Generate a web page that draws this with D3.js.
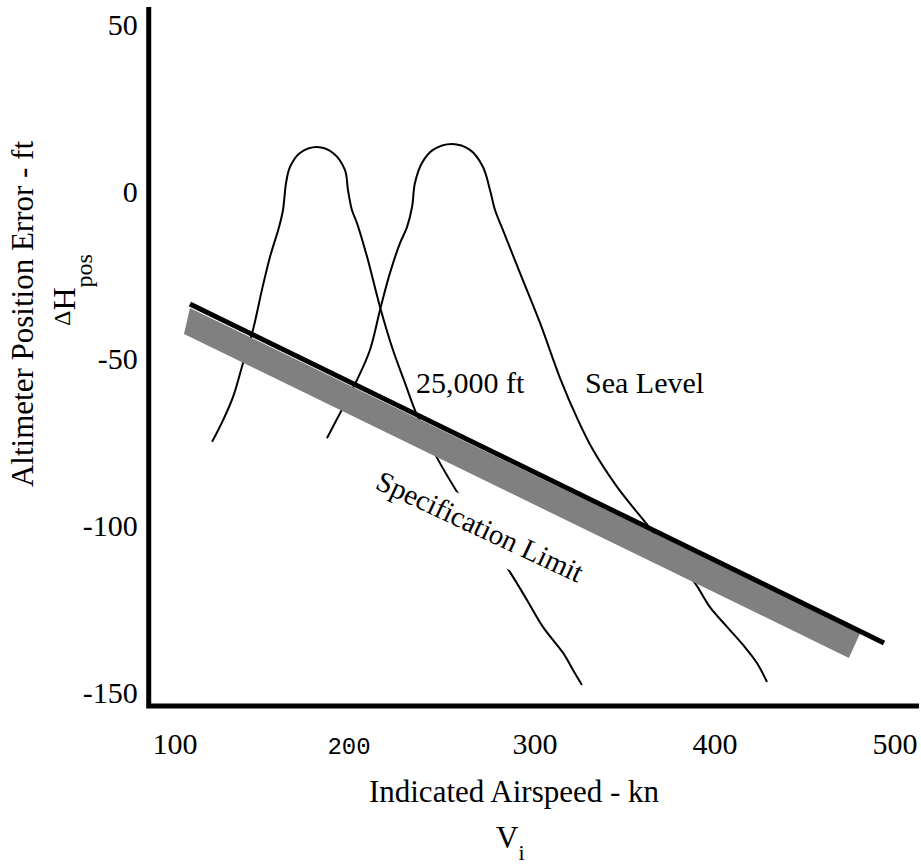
<!DOCTYPE html>
<html>
<head>
<meta charset="utf-8">
<script src="https://cdn.jsdelivr.net/npm/d3@7"></script>
<style>
  body { margin: 0; background: #fff; }
  text { font-family: "Liberation Serif", "Times New Roman", serif; fill: #000; }
</style>
</head>
<body>
<div id="chart"></div>
<script>
// tick labels
var xTicks = [100, 200, 300, 400, 500];
var yTicks = [50, 0, -50, -100, -150];

// 25,000 ft curve (kn, ft)
var alt25Kn  = [120.6, 126.7, 132.2, 137.8, 143.3, 148.3, 152.8, 157.8, 160.0, 161.7, 163.9, 169.4, 178.9, 187.8, 194.4, 196.1, 198.3, 201.1, 206.7, 213.9, 221.1, 227.8, 233.3, 239.4, 245.6, 256.7, 271.1, 286.1, 295.6, 304.4, 315.6, 321.1, 326.1];
var alt25Err = [-75.1, -68.6, -61.7, -51.5, -41.6, -29.6, -19.7, -10.8, -5.7, 2.4, 7.2, 11.4, 13.2, 11.4, 6.3, 0.3, -5.7, -9.6, -19.7, -34.7, -47.6, -57.5, -65.6, -72.8, -79.9, -90.1, -102.1, -114.1, -122.5, -130.5, -138.3, -143.4, -147.9];

// sea level curve
var seaKn  = [184.4, 191.7, 201.1, 208.3, 213.9, 219.4, 225.0, 228.9, 231.7, 233.3, 237.2, 243.3, 253.9, 263.9, 271.1, 275.0, 277.8, 282.2, 291.7, 302.8, 313.9, 323.9, 332.2, 345.6, 361.1, 375.0, 388.9, 397.2, 406.7, 415.6, 423.3, 428.9];
var seaErr = [-74.0, -66.5, -56.6, -47.6, -35.6, -24.6, -15.6, -10.8, -4.8, 2.4, 8.4, 12.3, 14.1, 12.3, 7.2, 0.3, -5.7, -11.7, -24.6, -39.5, -56.0, -68.6, -77.5, -88.6, -99.1, -108.4, -117.4, -124.6, -130.5, -135.9, -141.3, -147.0];

// specification limit line and tolerance band
var specKn  = [108.3, 493.9];
var specErr = [-33.8, -135.3];
var bandKn  = [108.3, 480.6, 474.4, 105.0];
var bandErr = [-35.0, -132.4, -139.8, -42.8];

var w = 921, h = 865;

var x = d3.scaleLinear().domain([100, 500]).range([175, 895]);
var y = d3.scaleLinear().domain([-150, 50]).range([692, 24]);

var svg = d3.select("#chart").append("svg")
    .attr("width", w)
    .attr("height", h);

var line = d3.line()
    .x(d => x(d[0]))
    .y(d => y(d[1]))
    .curve(d3.curveCatmullRom.alpha(0.5));

/* curves */
[[alt25Kn, alt25Err], [seaKn, seaErr]].forEach(function(c) {
  svg.append("path")
    .datum(d3.zip(c[0], c[1]))
    .attr("fill", "none")
    .attr("stroke", "#000")
    .attr("stroke-width", 2)
    .attr("d", line);
});

/* grey band + spec line */
svg.append("polygon")
  .attr("points", d3.zip(bandKn, bandErr).map(d => x(d[0]) + "," + y(d[1])).join(" "))
  .attr("fill", "#808080");

svg.append("line")
  .attr("x1", x(specKn[0])).attr("y1", y(specErr[0]))
  .attr("x2", x(specKn[1])).attr("y2", y(specErr[1]))
  .attr("stroke", "#000")
  .attr("stroke-width", 5);

var ang = Math.atan2(y(specErr[1]) - y(specErr[0]), x(specKn[1]) - x(specKn[0])) * 180 / Math.PI;

var spec = svg.append("g")
  .attr("transform", "translate(" + x(210.6) + "," + y(-88.9) + ") rotate(" + (ang - 1) + ")");
var specMask = spec.append("rect").attr("fill", "#fff");
var specText = spec.append("text")
  .style("font-size", "29px")
  .text("Specification Limit");
var tl = specText.node().getComputedTextLength();
specMask.attr("x", -4).attr("y", -31).attr("width", tl + 8).attr("height", 48);

/* curve labels */
svg.append("text")
  .attr("x", x(233.9)).attr("y", y(-60.5))
  .style("font-size", "30px")
  .text("25,000 ft");

svg.append("text")
  .attr("x", x(327.8)).attr("y", y(-60.5))
  .style("font-size", "30px")
  .text("Sea Level");

/* axes frame */
var x0 = x(85.4), x1 = x(513.3), yBot = y(-154.2), yTop = y(55.1);
svg.append("path")
  .attr("d", "M" + x0 + "," + yTop + "V" + yBot + "H" + x1)
  .attr("fill", "none")
  .attr("stroke", "#000")
  .attr("stroke-width", 5);

/* tick labels */
svg.selectAll("text.ytick")
  .data(yTicks)
  .enter().append("text")
  .attr("class", "ytick")
  .attr("x", x0 - 11)
  .attr("y", d => y(d))
  .attr("dy", "0.35em")
  .attr("text-anchor", "end")
  .style("font-size", "30px")
  .text(d => d);

svg.selectAll("text.xtick")
  .data(xTicks)
  .enter().append("text")
  .attr("class", "xtick")
  .attr("x", d => d == 200 ? x(d) - 6 : x(d))
  .attr("y", yBot + 48)
  .attr("text-anchor", "middle")
  .style("font-size", d => d == 200 ? "24px" : "30px")
  .style("font-family", d => d == 200 ? "'Liberation Mono', monospace" : null)
  .text(d => d);

/* axis titles */
svg.append("text")
  .attr("x", 514).attr("y", 802)
  .attr("text-anchor", "middle")
  .style("font-size", "31px")
  .text("Indicated Airspeed - kn");

var vi = svg.append("text")
  .attr("x", 496).attr("y", 848)
  .style("font-size", "31px");
vi.append("tspan").text("V");
vi.append("tspan").attr("dx", 0).attr("dy", 12).style("font-size", "22px").text("i");

svg.append("text")
  .attr("transform", "translate(33,314) rotate(-90)")
  .attr("text-anchor", "middle")
  .style("font-size", "31px")
  .text("Altimeter Position Error - ft");

var dh = svg.append("text")
  .attr("transform", "translate(75,290) rotate(-90)")
  .attr("text-anchor", "middle");
dh.append("tspan").attr("dy", -5).style("font-size", "24px").text("\u0394");
dh.append("tspan").attr("dy", 5).style("font-size", "32px").text("H");
dh.append("tspan").attr("dy", 17).style("font-size", "24px").text("pos");
</script>
</body>
</html>
